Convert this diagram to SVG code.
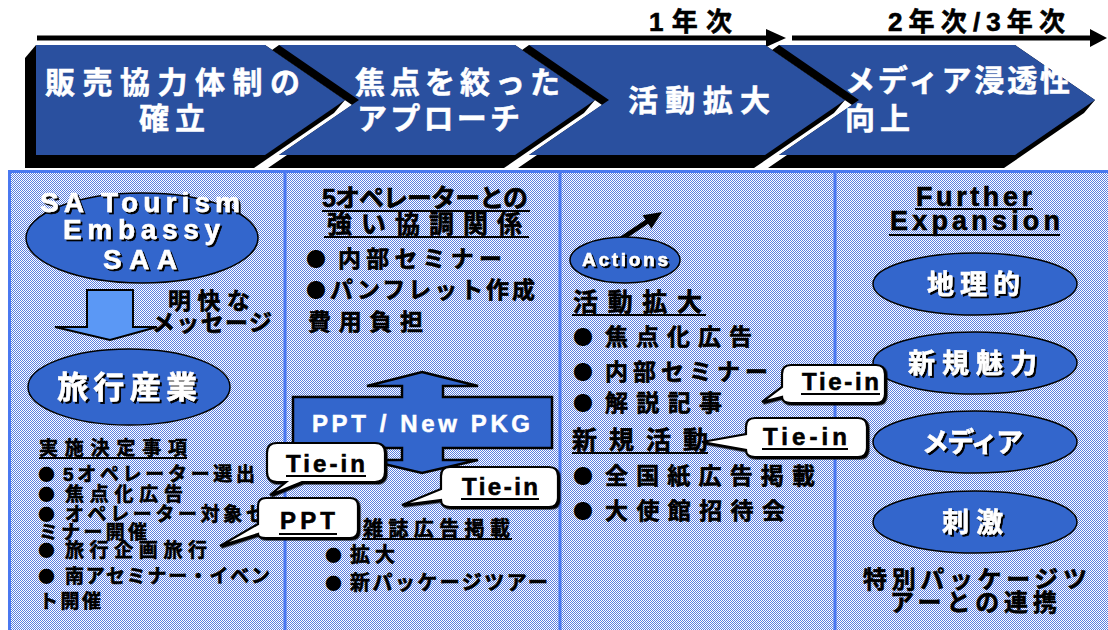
<svg xmlns="http://www.w3.org/2000/svg" width="1108" height="630" viewBox="0 0 1108 630">
<style>
.t{font-family:"Liberation Sans","Noto Sans CJK JP",sans-serif;font-weight:bold}
.w{fill:#fff;stroke:#fff;stroke-width:0.5}
.k{fill:#000;stroke:#000;stroke-width:0.6}
.face{fill:#2A509F}
.shd{fill:#000}
.ell{fill:#3366CC;stroke:#000;stroke-width:1.5}
.co{fill:#fff;stroke:#000;stroke-width:2.2}
.ul{stroke:#000;stroke-width:2}
.bul{font-family:"Noto Sans CJK JP",sans-serif;font-weight:bold;fill:#000}
.div{stroke:#4A78F0;stroke-width:3}
</style>
<defs>
<pattern id="dots" width="2" height="2" patternUnits="userSpaceOnUse">
<rect width="2" height="2" fill="#fff"/>
<rect width="1" height="1" fill="#5A7EE0"/>
<rect x="1" y="1" width="1" height="1" fill="#5A7EE0"/>
</pattern>
<filter id="ts" x="-10%" y="-20%" width="130%" height="150%">
<feDropShadow dx="2" dy="2" stdDeviation="0.4" flood-color="#000" flood-opacity="1"/>
</filter>
<filter id="cs" x="-10%" y="-10%" width="130%" height="130%">
<feDropShadow dx="1.5" dy="1.5" stdDeviation="0.3" flood-color="#000" flood-opacity="1"/>
</filter>
</defs>

<!-- timeline -->
<g id="timeline">
<line x1="37" y1="38" x2="768" y2="38" stroke="#000" stroke-width="5"/>
<polygon points="766,29 786,38 766,47" fill="#000"/>
<line x1="792" y1="38" x2="1092" y2="38" stroke="#000" stroke-width="5"/>
<polygon points="1090,29 1107,38 1090,47" fill="#000"/>
<text class="t k" x="649" y="31" font-size="26" textLength="83" lengthAdjust="spacing">1年次</text>
<text class="t k" x="888" y="31" font-size="26" textLength="177" lengthAdjust="spacing">2年次/3年次</text>
</g>

<!-- chevrons -->
<g id="chevron1">
<polygon class="shd" points="36,45 265,45 345,100 334,113 254,168 25,168 25,58"/>
<polygon class="face" points="36,45 265,45 345,100 265,155 36,155"/>
<text class="t w" x="45" y="93" font-size="30" textLength="255" lengthAdjust="spacing">販売協力体制の</text>
<text class="t w" x="139" y="129" font-size="30" textLength="66" lengthAdjust="spacing">確立</text>
</g>
<g id="chevron2">
<polygon class="shd" points="279,45 515,45 595,100 584,113 504,168 268,168 287,155 279,155 352,105 272,50"/>
<polygon class="face" points="279,45 515,45 595,100 515,155 279,155 359,100"/>
<text class="t w" x="355" y="93" font-size="30" textLength="205" lengthAdjust="spacing">焦点を絞った</text>
<text class="t w" x="357" y="129" font-size="30" textLength="163" lengthAdjust="spacing">アプローチ</text>
</g>
<g id="chevron3">
<polygon class="shd" points="529,45 765,45 845,100 834,113 754,168 518,168 537,155 529,155 602,105 522,50"/>
<polygon class="face" points="529,45 765,45 845,100 765,155 529,155 609,100"/>
<text class="t w" x="628" y="111" font-size="30" textLength="142" lengthAdjust="spacing">活動拡大</text>
</g>
<g id="chevron4">
<polygon class="shd" points="779,45 1015,45 1095,100 1084,113 1004,168 768,168 787,155 779,155 852,105 772,50"/>
<polygon class="face" points="779,45 1015,45 1095,100 1015,155 779,155 859,100"/>
<text class="t w" x="845" y="91" font-size="30" textLength="225" lengthAdjust="spacing">メディア浸透性</text>
<text class="t w" x="845" y="129" font-size="30" textLength="65" lengthAdjust="spacing">向上</text>
</g>

<!-- panels -->
<rect x="8" y="171" width="1100" height="459" fill="url(#dots)"/>
<line class="div" x1="8" y1="171.5" x2="1108" y2="171.5"/>
<line class="div" x1="9.5" y1="171" x2="9.5" y2="630"/>
<line class="div" x1="285" y1="171" x2="285" y2="630"/>
<line class="div" x1="560" y1="171" x2="560" y2="630"/>
<line class="div" x1="835" y1="171" x2="835" y2="630"/>

<!-- column 1 -->
<g id="sa-tourism">
<ellipse class="ell" cx="142" cy="238" rx="116" ry="45"/>
<g filter="url(#ts)">
<text class="t w" x="40" y="212" font-size="28" textLength="200" lengthAdjust="spacing">SA Tourism</text>
<text class="t w" x="63" y="239" font-size="28" textLength="157" lengthAdjust="spacing">Embassy</text>
<text class="t w" x="103" y="269" font-size="28" textLength="74" lengthAdjust="spacing">SAA</text>
</g>
</g>
<g id="message-arrow">
<polygon points="87,290 133,290 133,327 157,327 110,340 55,327 87,327" fill="#5B98F5" stroke="#000" stroke-width="2"/>
<text class="t k" x="168" y="309" font-size="23" textLength="82" lengthAdjust="spacing">明快な</text>
<text class="t k" x="152" y="331" font-size="23" textLength="120" lengthAdjust="spacing">メッセージ</text>
</g>
<g id="travel-industry">
<ellipse class="ell" cx="129" cy="387" rx="101" ry="38"/>
<text class="t w" x="57" y="398" font-size="31" textLength="140" lengthAdjust="spacing" filter="url(#ts)">旅行産業</text>
</g>
<g id="decisions">
<text class="t k" x="39" y="455" font-size="19" textLength="148" lengthAdjust="spacing">実施決定事項</text>
<line class="ul" x1="39" y1="458" x2="187" y2="458"/>
<text class="bul" x="38" y="481" font-size="17">●</text>
<text class="t k" x="63" y="481" font-size="19" textLength="192" lengthAdjust="spacing">5オペレーター選出</text>
<text class="bul" x="38" y="501" font-size="17">●</text>
<text class="t k" x="65" y="501" font-size="19" textLength="118" lengthAdjust="spacing">焦点化広告</text>
<text class="bul" x="38" y="521" font-size="17">●</text>
<text class="t k" x="65" y="521" font-size="19" textLength="200" lengthAdjust="spacing">オペレーター対象セ</text>
<text class="t k" x="39" y="539" font-size="19" textLength="108" lengthAdjust="spacing">ミナー開催</text>
<text class="bul" x="38" y="557" font-size="17">●</text>
<text class="t k" x="65" y="557" font-size="19" textLength="142" lengthAdjust="spacing">旅行企画旅行</text>
<text class="bul" x="38" y="583" font-size="17">●</text>
<text class="t k" x="65" y="583" font-size="19" textLength="205" lengthAdjust="spacing">南アセミナー・イベン</text>
<text class="t k" x="39" y="608" font-size="19" textLength="62" lengthAdjust="spacing">ト開催</text>
</g>

<!-- column 2 -->
<g id="operators">
<text class="t k" x="322" y="207" font-size="25" textLength="206" lengthAdjust="spacing">5オペレーターとの</text>
<line class="ul" x1="322" y1="211" x2="530" y2="211"/>
<text class="t k" x="327" y="233" font-size="25" textLength="195" lengthAdjust="spacing">強い協調関係</text>
<line class="ul" x1="324" y1="237" x2="529" y2="237"/>
<text class="bul" x="306" y="267" font-size="20">●</text>
<text class="t k" x="338" y="267" font-size="23" textLength="164" lengthAdjust="spacing">内部セミナー</text>
<text class="bul" x="306" y="298" font-size="20">●</text>
<text class="t k" x="330" y="298" font-size="23" textLength="205" lengthAdjust="spacing">パンフレット作成</text>
<text class="t k" x="308" y="330" font-size="23" textLength="115" lengthAdjust="spacing">費用負担</text>
</g>
<g id="ppt-newpkg">
<polygon points="422,372 478,386 443,386 443,397 552,397 552,448 443,448 443,460 478,460 422,473 367,460 402,460 402,448 293,448 293,397 402,397 402,386 367,386" fill="#3366CC" stroke="#000" stroke-width="2.5"/>
<text class="t w" x="312" y="432" font-size="24" textLength="218" lengthAdjust="spacing">PPT / New PKG</text>
</g>
<g id="magazine">
<text class="t k" x="363" y="536" font-size="20" textLength="147" lengthAdjust="spacing">雑誌広告掲載</text>
<line class="ul" x1="362" y1="539" x2="512" y2="539"/>
<text class="bul" x="325" y="562" font-size="17">●</text>
<text class="t k" x="350" y="562" font-size="20" textLength="45" lengthAdjust="spacing">拡大</text>
<text class="bul" x="325" y="590" font-size="17">●</text>
<text class="t k" x="350" y="590" font-size="20" textLength="198" lengthAdjust="spacing">新パッケージツアー</text>
</g>

<!-- column 3 -->
<g id="actions">
<line x1="615" y1="243" x2="648" y2="221" stroke="#000" stroke-width="5"/>
<polygon points="662,212 651.4,228.7 642.6,215.3" fill="#000"/>
<ellipse class="ell" cx="625" cy="260" rx="55" ry="23"/>
<text class="t w" x="582" y="266" font-size="19" textLength="86" lengthAdjust="spacing" filter="url(#ts)">Actions</text>
</g>
<g id="activity-expansion">
<text class="t k" x="573" y="311" font-size="25" textLength="129" lengthAdjust="spacing">活動拡大</text>
<line class="ul" x1="572" y1="315" x2="706" y2="315"/>
<text class="bul" x="573" y="345" font-size="20">●</text>
<text class="t k" x="605" y="345" font-size="23" textLength="147" lengthAdjust="spacing">焦点化広告</text>
<text class="bul" x="573" y="380" font-size="20">●</text>
<text class="t k" x="605" y="380" font-size="23" textLength="163" lengthAdjust="spacing">内部セミナー</text>
<text class="bul" x="573" y="411" font-size="20">●</text>
<text class="t k" x="605" y="411" font-size="23" textLength="117" lengthAdjust="spacing">解説記事</text>
</g>
<g id="new-activity">
<text class="t k" x="572" y="449" font-size="25" textLength="136" lengthAdjust="spacing">新規活動</text>
<line class="ul" x1="572" y1="453" x2="708" y2="453"/>
<text class="bul" x="573" y="484" font-size="20">●</text>
<text class="t k" x="605" y="484" font-size="23" textLength="210" lengthAdjust="spacing">全国紙広告掲載</text>
<text class="bul" x="573" y="519" font-size="20">●</text>
<text class="t k" x="605" y="519" font-size="23" textLength="180" lengthAdjust="spacing">大使館招待会</text>
</g>

<!-- column 4 -->
<g id="further-expansion">
<text class="t k" x="916" y="206" font-size="27" textLength="116" lengthAdjust="spacing">Further</text>
<line class="ul" x1="915" y1="209" x2="1033" y2="209"/>
<text class="t k" x="890" y="230" font-size="27" textLength="170" lengthAdjust="spacing">Expansion</text>
<line class="ul" x1="889" y1="235" x2="1060" y2="235"/>
</g>
<g id="geographic">
<ellipse class="ell" cx="975" cy="284" rx="102" ry="31"/>
<text class="t w" x="927" y="294" font-size="27" textLength="93" lengthAdjust="spacing" filter="url(#ts)">地理的</text>
</g>
<g id="new-attraction">
<ellipse class="ell" cx="975" cy="363" rx="102" ry="31"/>
<text class="t w" x="908" y="373" font-size="27" textLength="129" lengthAdjust="spacing" filter="url(#ts)">新規魅力</text>
</g>
<g id="media">
<ellipse class="ell" cx="975" cy="442" rx="102" ry="31"/>
<text class="t w" x="922" y="452" font-size="27" textLength="101" lengthAdjust="spacing" filter="url(#ts)">メディア</text>
</g>
<g id="stimulus">
<ellipse class="ell" cx="975" cy="522" rx="102" ry="31"/>
<text class="t w" x="942" y="532" font-size="27" textLength="61" lengthAdjust="spacing" filter="url(#ts)">刺激</text>
</g>
<g id="special-package">
<text class="t k" x="863" y="588" font-size="24" textLength="224" lengthAdjust="spacing">特別パッケージツ</text>
<text class="t k" x="890" y="611" font-size="24" textLength="167" lengthAdjust="spacing">アーとの連携</text>
</g>

<!-- callouts (connectors) -->
<g id="connectors">
<g id="callout-tiein-1">
<path class="co" filter="url(#cs)" d="M277,443 H375 Q385,443 385,453 V472 Q385,482 375,482 H302 L270,495 L286,482 H277 Q267,482 267,472 V453 Q267,443 277,443 Z"/>
<text class="t k" x="286" y="472" font-size="24" textLength="79" lengthAdjust="spacing">Tie-in</text>
<line class="ul" x1="286" y1="476" x2="366" y2="476"/>
</g>
<g id="callout-ppt">
<path class="co" filter="url(#cs)" d="M266,498 H350 Q358,498 358,506 V530 Q358,538 350,538 H266 Q258,538 258,534 L220,546 L258,524 V506 Q258,498 266,498 Z"/>
<text class="t k" x="280" y="529" font-size="24" textLength="55" lengthAdjust="spacing">PPT</text>
<line class="ul" x1="279" y1="534" x2="337" y2="534"/>
</g>
<g id="callout-tiein-2">
<path class="co" filter="url(#cs)" d="M450,467 H549 Q558,467 558,476 V498 Q558,507 549,507 H450 Q441,507 441,500 L402,505 L441,489 V476 Q441,467 450,467 Z"/>
<text class="t k" x="462" y="495" font-size="24" textLength="76" lengthAdjust="spacing">Tie-in</text>
<line class="ul" x1="461" y1="499" x2="539" y2="499"/>
</g>
<g id="callout-tiein-3">
<path class="co" filter="url(#cs)" d="M791,365 H876 Q885,365 885,374 V394 Q885,403 876,403 H791 Q782,403 782,397 L762,402 L782,387 V374 Q782,365 791,365 Z"/>
<text class="t k" x="802" y="390" font-size="24" textLength="77" lengthAdjust="spacing">Tie-in</text>
<line class="ul" x1="801" y1="394" x2="880" y2="394"/>
</g>
<g id="callout-tiein-4">
<path class="co" filter="url(#cs)" d="M755,418 H858 Q867,418 867,427 V448 Q867,457 858,457 H755 Q746,457 746,450 L702,442 L746,434 V427 Q746,418 755,418 Z"/>
<text class="t k" x="763" y="445" font-size="24" textLength="84" lengthAdjust="spacing">Tie-in</text>
<line class="ul" x1="762" y1="449" x2="848" y2="449"/>
</g>
</g>
</svg>
